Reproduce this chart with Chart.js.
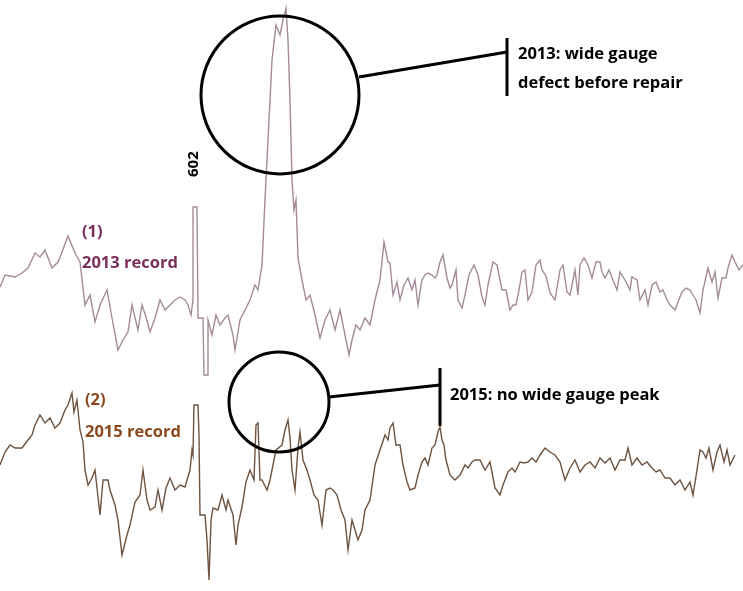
<!DOCTYPE html>
<html><head><meta charset="utf-8">
<script src="https://cdn.jsdelivr.net/npm/chart.js@4"></script>
<style>html,body{margin:0;padding:0;background:#fff}#w{width:743px;height:591px}</style>
</head><body><div id="w"><canvas id="c"></canvas></div>
<script>
const x2013 = [0,5,15,22,28,35,40,45,52,58,62,68,75,80,85,90,95,100,107,112,118,123,128,132,138,142,146,150,155,160,165,170,175,180,185,188,191,193,193,197,198,201,203,204,207,208,212,216,220,225,228,233,235,240,245,250,255,258,262,265,268,272,276,280,283,286,288,290,292,294,296,298,302,306,310,315,320,325,330,335,340,345,349,352,356,360,365,370,375,380,384,388,390,393,397,400,404,408,412,415,418,422,425,428,432,435,437,440,443,447,450,452,456,458,462,465,469,474,478,482,485,488,493,497,502,506,510,513,516,519,522,525,528,532,536,540,542,546,550,555,560,563,567,570,575,578,580,584,588,592,596,600,602,605,609,613,617,620,625,630,632,637,640,645,648,652,656,660,663,667,670,675,678,682,686,690,693,696,700,703,708,712,715,718,722,726,728,732,735,739,743];
const y2013 = [287,275,277,273,268,253,257,250,268,262,252,236,253,262,305,295,322,305,290,318,350,340,332,305,330,305,317,332,318,300,310,305,300,297,300,305,315,300,207,207,318,318,318,375,375,320,335,315,325,318,315,335,350,320,310,300,285,290,265,200,140,60,25,35,20,8,40,100,180,210,200,258,280,300,295,315,338,320,310,330,310,335,355,340,325,330,318,325,300,280,242,262,263,295,282,300,285,278,290,280,305,280,275,273,275,278,275,262,255,278,288,285,270,300,308,295,275,265,275,297,305,285,262,265,290,290,310,305,305,290,272,270,300,292,265,260,270,276,293,300,270,265,292,295,270,295,265,258,265,278,262,262,272,278,270,280,290,272,280,290,277,280,300,290,305,285,282,292,290,300,305,310,302,292,288,290,295,300,313,290,268,282,272,298,278,278,268,255,262,270,265];
const x2015 = [0,5,10,15,22,28,32,35,40,45,50,55,60,65,68,72,74,77,80,83,85,88,92,95,100,103,108,110,115,118,122,127,130,135,140,143,147,150,155,158,162,166,170,175,180,185,190,192,193,194,198,199,200,205,207,209,211,213,218,222,226,228,233,236,238,242,246,250,254,256,258,260,262,267,270,276,282,285,288,290,292,295,298,300,303,307,310,314,318,322,326,330,333,337,341,345,348,352,355,358,362,365,370,375,380,385,388,390,393,396,400,403,407,410,415,418,422,425,428,432,435,438,440,442,444,446,450,455,460,465,468,472,475,480,485,490,495,500,503,508,512,515,520,524,528,532,536,540,545,550,555,560,565,570,575,580,585,590,595,600,605,610,615,620,625,628,632,637,642,647,652,656,660,665,670,675,680,685,690,693,697,700,703,706,709,713,717,720,724,727,730,735];
const y2015 = [465,452,445,448,448,440,435,425,415,423,418,428,423,410,405,393,412,400,430,442,470,485,478,470,515,480,480,490,505,520,555,535,525,502,495,470,500,510,507,490,510,488,478,490,485,487,470,450,455,405,405,435,515,515,540,580,520,508,510,495,510,500,515,545,525,507,482,470,480,425,423,480,480,490,480,450,445,430,420,438,470,490,448,432,460,470,480,495,500,525,490,488,490,495,510,520,550,520,530,540,530,510,500,465,450,435,440,428,423,445,445,465,482,490,488,475,462,458,465,448,445,432,427,440,445,460,475,480,475,465,468,462,460,460,470,462,488,495,485,472,468,472,462,463,462,458,462,455,448,452,455,462,480,468,460,472,465,462,468,458,463,458,470,460,460,448,465,458,465,462,468,472,470,478,478,485,480,490,482,495,470,450,452,458,448,470,452,445,462,450,465,455];
const pts = (xs, ys) => xs.map((x, i) => ({x, y: ys[i]}));

const notes = {
  id: 'notes',
  afterDatasetsDraw(chart) {
    const {ctx} = chart;
    const sx = chart.scales.x, sy = chart.scales.y;
    const X = v => sx.getPixelForValue(v), Y = v => sy.getPixelForValue(v);
    ctx.save();
    ctx.strokeStyle = '#000'; ctx.lineWidth = 3;
    ctx.beginPath(); ctx.arc(X(280), Y(95), 79, 0, Math.PI * 2); ctx.stroke();
    ctx.beginPath(); ctx.arc(X(279), Y(402), 50, 0, Math.PI * 2); ctx.stroke();
    ctx.beginPath(); ctx.moveTo(X(359), Y(77)); ctx.lineTo(X(507), Y(52)); ctx.stroke();
    ctx.beginPath(); ctx.moveTo(X(507), Y(38)); ctx.lineTo(X(507), Y(96)); ctx.stroke();
    ctx.beginPath(); ctx.moveTo(X(329), Y(397)); ctx.lineTo(X(440), Y(385)); ctx.stroke();
    ctx.beginPath(); ctx.moveTo(X(440), Y(368)); ctx.lineTo(X(440), Y(426)); ctx.stroke();
    ctx.font = 'bold 16.5px "Open Sans"'; ctx.textBaseline = 'middle';
    ctx.fillStyle = '#000';
    ctx.fillText('2013: wide gauge', X(518), Y(54));
    ctx.fillText('defect before repair', X(518), Y(83));
    ctx.fillText('2015: no wide gauge peak', X(450), Y(395));
    ctx.fillStyle = '#7a2e5a';
    ctx.fillText('(1)', X(82), Y(232));
    ctx.fillText('2013 record', X(82), Y(263));
    ctx.fillStyle = '#8a4a1e';
    ctx.fillText('(2)', X(85), Y(400));
    ctx.fillText('2015 record', X(85), Y(432));
    ctx.fillStyle = '#000';
    ctx.font = 'bold 15px "Open Sans"';
    ctx.translate(X(194), Y(177)); ctx.rotate(-Math.PI / 2);
    ctx.fillText('602', 0, 0);
    ctx.restore();
  }
};

new Chart(document.getElementById('c'), {
  type: 'scatter',
  data: { datasets: [
    { label: '2013 record', data: pts(x2013, y2013), showLine: true, borderColor: '#a58a9a', borderWidth: 1.4, pointRadius: 0, tension: 0 },
    { label: '2015 record', data: pts(x2015, y2015), showLine: true, borderColor: '#6e5340', borderWidth: 1.4, pointRadius: 0, tension: 0 }
  ]},
  options: {
    responsive: true, maintainAspectRatio: false, animation: false,
    layout: { padding: 0 },
    plugins: { legend: { display: false }, tooltip: { enabled: false } },
    scales: {
      x: { type: 'linear', min: 0, max: 743, display: false },
      y: { type: 'linear', min: 0, max: 591, reverse: true, display: false }
    }
  },
  plugins: [notes]
});
</script></body></html>
